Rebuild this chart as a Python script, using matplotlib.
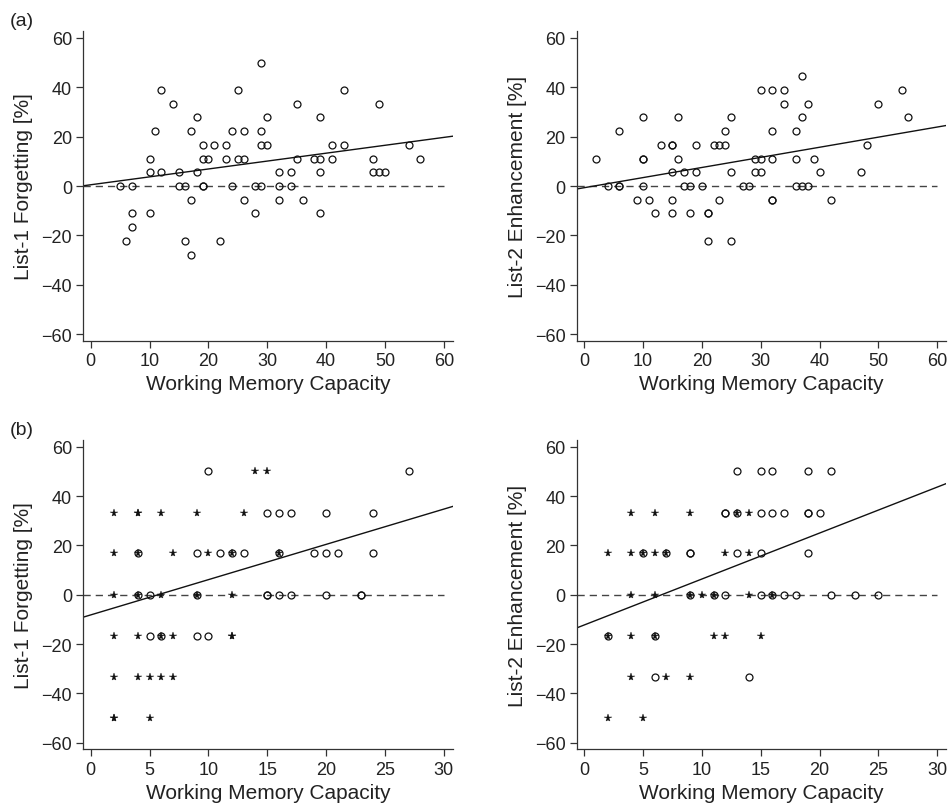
import matplotlib
matplotlib.use('Agg')
import matplotlib.pyplot as plt
import numpy as np

plt.rcParams['font.family'] = ['Liberation Sans', 'DejaVu Sans']

# Panel (a), left: List-1 forgetting vs WMC
tl_x = [29, 12, 25, 14, 18, 30, 11, 17, 24, 26, 29, 19, 21, 23, 29, 30,
        10, 19, 20, 23, 25, 26, 10, 12, 15, 18, 5, 7, 15, 16, 19, 19, 24, 28, 29,
        17, 26, 7, 10, 28,
        43, 35, 49, 39, 41, 43, 54, 35, 38, 39, 41, 48, 56,
        32, 34, 39, 48, 49, 50, 32, 34, 32, 36, 39,
        6, 7, 16, 17, 22]
tl_y = [50, 38.9, 38.9, 33.3, 27.8, 27.8, 22.2, 22.2, 22.2, 22.2, 22.2, 16.7, 16.7, 16.7, 16.7, 16.7,
        11.1, 11.1, 11.1, 11.1, 11.1, 11.1, 5.6, 5.6, 5.6, 5.6, 0, 0, 0, 0, 0, 0, 0, 0, 0,
        -5.6, -5.6, -11.1, -11.1, -11.1,
        38.9, 33.3, 33.3, 27.8, 16.7, 16.7, 16.7, 11.1, 11.1, 11.1, 11.1, 11.1, 11.1,
        5.6, 5.6, 5.6, 5.6, 5.6, 5.6, 0, 0, -5.6, -5.6, -11.1,
        -22.2, -16.7, -22.2, -27.8, -22.2]

# Panel (a), right: List-2 enhancement vs WMC
tr_x = [30, 10, 16, 25, 6, 24, 13, 15, 15, 19, 22, 23, 24,
        2, 10, 10, 16, 29, 30, 15, 17, 19, 25, 29, 30,
        4, 6, 6, 10, 17, 18, 20, 27, 28, 9, 11, 15, 23,
        12, 15, 18, 21, 21,
        37, 32, 34, 54, 34, 38, 50, 37, 55, 32, 36, 48,
        32, 36, 39, 40, 47, 36, 37, 38, 32, 32, 42,
        21, 25]
tr_y = [38.9, 27.8, 27.8, 27.8, 22.2, 22.2, 16.7, 16.7, 16.7, 16.7, 16.7, 16.7, 16.7,
        11.1, 11.1, 11.1, 11.1, 11.1, 11.1, 5.6, 5.6, 5.6, 5.6, 5.6, 5.6,
        0, 0, 0, 0, 0, 0, 0, 0, 0, -5.6, -5.6, -5.6, -5.6,
        -11.1, -11.1, -11.1, -11.1, -11.1,
        44.4, 38.9, 38.9, 38.9, 33.3, 33.3, 33.3, 27.8, 27.8, 22.2, 22.2, 16.7,
        11.1, 11.1, 11.1, 5.6, 5.6, 0, 0, 0, -5.6, -5.6, -5.6,
        -22.2, -22.2]

# Panel (b), left: circles and stars
bl_cx = [10, 27, 15, 16, 17, 20, 24,
         4, 9, 11, 12, 13, 16, 19, 20, 21, 24,
         4, 5, 9, 15, 15, 16, 17, 20, 23, 23,
         5, 6, 9, 10]
bl_cy = [50, 50, 33.3, 33.3, 33.3, 33.3, 33.3,
         16.7, 16.7, 16.7, 16.7, 16.7, 16.7, 16.7, 16.7, 16.7, 16.7,
         0, 0, 0, 0, 0, 0, 0, 0, 0, 0,
         -16.7, -16.7, -16.7, -16.7]
bl_sx = [14, 15, 2, 4, 4, 6, 9, 13,
         2, 4, 7, 10, 12, 16,
         2, 4, 6, 9, 12,
         2, 4, 6, 7, 12, 12,
         2, 4, 5, 6, 7,
         2, 2, 5]
bl_sy = [50, 50, 33.3, 33.3, 33.3, 33.3, 33.3, 33.3,
         16.7, 16.7, 16.7, 16.7, 16.7, 16.7,
         0, 0, 0, 0, 0,
         -16.7, -16.7, -16.7, -16.7, -16.7, -16.7,
         -33.3, -33.3, -33.3, -33.3, -33.3,
         -50, -50, -50]

# Panel (b), right: circles and stars
br_cx = [13, 15, 16, 19, 21,
         12, 12, 13, 15, 16, 17, 19, 19, 20,
         5, 7, 9, 9, 13, 15, 19,
         9, 11, 12, 15, 16, 17, 18, 21, 23, 25,
         2, 6, 6, 14]
br_cy = [50, 50, 50, 50, 50,
         33.3, 33.3, 33.3, 33.3, 33.3, 33.3, 33.3, 33.3, 33.3,
         16.7, 16.7, 16.7, 16.7, 16.7, 16.7, 16.7,
         0, 0, 0, 0, 0, 0, 0, 0, 0, 0,
         -16.7, -16.7, -33.3, -33.3]
br_sx = [4, 6, 9, 13, 14,
         2, 4, 5, 6, 7, 12, 14,
         4, 6, 9, 10, 11, 14, 16,
         2, 4, 6, 11, 12, 15,
         4, 7, 9,
         2, 5]
br_sy = [33.3, 33.3, 33.3, 33.3, 33.3,
         16.7, 16.7, 16.7, 16.7, 16.7, 16.7, 16.7,
         0, 0, 0, 0, 0, 0, 0,
         -16.7, -16.7, -16.7, -16.7, -16.7, -16.7,
         -33.3, -33.3, -33.3,
         -50, -50]

# regression lines (intercept, slope)
fits = {'tl': (0.5, 0.32), 'tr': (-0.7, 0.41), 'bl': (-8.2, 1.43), 'br': (-12.3, 1.864)}

ylabels = {'tl': 'List-1 Forgetting [%]', 'tr': 'List-2 Enhancement [%]',
           'bl': 'List-1 Forgetting [%]', 'br': 'List-2 Enhancement [%]'}

fig = plt.figure(figsize=(9.53, 8.12), dpi=100)
W, H = 953, 812


def make_axes(left, top, w=369.4, h=309.4):
    return fig.add_axes([left / W, 1 - (top + h) / H, w / W, h / H])


axes = {
    'tl': make_axes(83.3, 32.3),
    'tr': make_axes(576.7, 32.3),
    'bl': make_axes(83.3, 441.0),
    'br': make_axes(576.7, 441.0),
}

txt = '#222222'
circ = dict(marker='o', ms=5.0, mfc='none', mec='#111111', mew=0.9, ls='none')
star = dict(marker='*', ms=5.8, mfc='#111111', mec='#111111', mew=0.3, ls='none')

for key, ax in axes.items():
    top = key.startswith('t')
    xmax = 60 if top else 30
    xlim = (-1.25, 61.5) if top else (-0.625, 30.75)
    ax.set_xlim(*xlim)
    ax.set_ylim(-62.7, 62.7)

    # reference line at zero
    ax.plot([xlim[0], xmax], [0, 0], color='#444444', lw=1.0, dashes=(5.2, 3.6), zorder=1)
    # regression line
    b0, b1 = fits[key]
    xs = np.array(xlim)
    ax.plot(xs, b0 + b1 * xs, color='#111111', lw=1.0, zorder=2)

    if key == 'tl':
        ax.plot(tl_x, tl_y, **circ)
    elif key == 'tr':
        ax.plot(tr_x, tr_y, **circ)
    elif key == 'bl':
        ax.plot(bl_cx, bl_cy, **circ)
        ax.plot(bl_sx, bl_sy, **star)
    else:
        ax.plot(br_cx, br_cy, **circ)
        ax.plot(br_sx, br_sy, **star)

    ax.set_yticks(np.arange(-60, 61, 20))
    ax.set_xticks(np.arange(0, xmax + 1, 10 if top else 5))
    ax.set_yticklabels([str(v).replace('-', '\u2212') for v in range(-60, 61, 20)])
    ax.tick_params(direction='out', length=5, width=0.9, labelsize=13, colors='#333333',
                   labelcolor=txt, pad=3)
    for s in ['top', 'right']:
        ax.spines[s].set_visible(False)
    for s in ['left', 'bottom']:
        ax.spines[s].set_linewidth(0.9)
        ax.spines[s].set_color('#333333')
    ax.set_xlabel('Working Memory Capacity', fontsize=15, color=txt, labelpad=4)
    ax.set_ylabel(ylabels[key], fontsize=15, color=txt, labelpad=6)

fig.text(10 / W, 1 - 21.7 / H, '(a)', fontsize=14, color=txt, va='center', ha='left')
fig.text(10 / W, 1 - 430.4 / H, '(b)', fontsize=14, color=txt, va='center', ha='left')

plt.savefig('out.png', dpi=100)
plt.close()
